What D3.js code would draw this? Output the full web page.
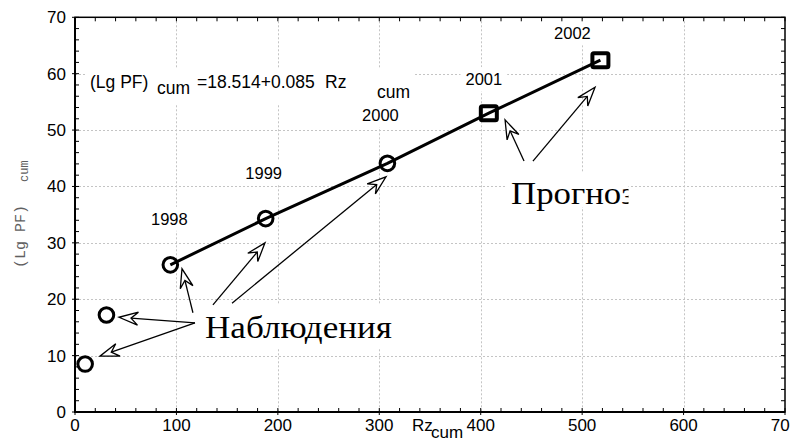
<!DOCTYPE html>
<html>
<head>
<meta charset="utf-8">
<script src="https://cdn.jsdelivr.net/npm/d3@7"></script>
<style>
  html, body { margin: 0; padding: 0; background: #fff; }
  svg { display: block; }
</style>
</head>
<body>
<svg id="chart" width="790" height="446"></svg>
<script>
// Observed cumulative values (Rz_cum, (Lg PF)_cum)
const obsX = [10, 31, 94, 188, 308];
const obsY = [8.5, 17.2, 26.1, 34.3, 44.1];
// Forecast values
const fcX = [408, 518];
const fcY = [53.0, 62.4];
// Years labelling the points joined by the regression line
const years = ["1998", "1999", "2000", "2001", "2002"];
// Axis ticks
const xTickValues = [0, 100, 200, 300, 400, 500, 600, 700];
const yTickValues = [0, 10, 20, 30, 40, 50, 60, 70];
const gridX = [100, 200, 300, 400, 500, 600];
const gridY = [10, 20, 30, 40, 50, 60];
// Text
const eqLeft = "(Lg PF)";
const eqRight = "=18.514+0.085";
const eqVar = "Rz";
const subText = "cum";
const obsLabel = "Наблюдения";
const fcLabel = "Прогноз";

// Annotation arrows, in data units: [startX, startY, tipX, tipY]
const obsArrows = [
  [118.3, 15.8, 43.4, 16.8],
  [118.3, 15.8, 24.6, 9.9],
  [116.3, 17.6, 105.5, 25.4],
  [136.0, 19.0, 187.3, 30.0],
  [154.8, 19.3, 306.6, 41.7]
];
const fcArrows = [
  [442.7, 44.5, 424.0, 51.8],
  [451.5, 44.5, 512.7, 57.6]
];

const plotL = 75, plotR = 785, plotT = 17.3, plotB = 412;

const svg = d3.select("#chart");
const x = d3.scaleLinear().domain([0, 700]).range([plotL, plotR]);
const y = d3.scaleLinear().domain([0, 70]).range([plotB, plotT]);

const SANS = "'Liberation Sans', Arial, sans-serif";
const SERIF = "'Liberation Serif', 'Times New Roman', serif";
const MONO = "'Liberation Mono', 'Courier New', monospace";

// --- grid
const grid = svg.append("g").attr("stroke", "#c4c4c4").attr("stroke-width", 1)
  .attr("stroke-dasharray", "2,2");
grid.selectAll("line.gx").data(gridX).join("line")
  .attr("x1", d => Math.round(x(d)) + 0.5).attr("x2", d => Math.round(x(d)) + 0.5)
  .attr("y1", plotT).attr("y2", plotB);
grid.selectAll("line.gy").data(gridY).join("line")
  .attr("y1", d => Math.round(y(d)) + 0.5).attr("y2", d => Math.round(y(d)) + 0.5)
  .attr("x1", plotL).attr("x2", plotR);

// white backgrounds behind annotation text
const bgLayer = svg.append("g");
const textLayer = svg.append("g");
function backdrop(sel, pad) {
  const b = sel.node().getBBox();
  bgLayer.append("rect")
    .attr("x", b.x - pad[0]).attr("y", b.y - pad[1])
    .attr("width", b.width + pad[0] + pad[2]).attr("height", b.height + pad[1] + pad[3])
    .attr("fill", "#fff");
}

// --- axes frame and ticks
const axisG = svg.append("g");
const minorX = d3.range(0, 701, 20);
const minorY = d3.range(0, 71, 2);
const tk = axisG.append("g").attr("stroke", "#000").attr("stroke-width", 1);
tk.selectAll("line.bx").data(minorX).join("line")
  .attr("x1", d => x(d)).attr("x2", d => x(d)).attr("y1", plotB).attr("y2", plotB - 4);
tk.selectAll("line.tx").data(minorX).join("line")
  .attr("x1", d => x(d)).attr("x2", d => x(d)).attr("y1", plotT).attr("y2", plotT + 4);
tk.selectAll("line.ly").data(minorY).join("line")
  .attr("y1", d => y(d)).attr("y2", d => y(d)).attr("x1", plotL).attr("x2", plotL + 4);
tk.selectAll("line.ry").data(minorY).join("line")
  .attr("y1", d => y(d)).attr("y2", d => y(d)).attr("x1", plotR).attr("x2", plotR - 4);
tk.selectAll("line.mx").data(xTickValues).join("line")
  .attr("x1", d => x(d)).attr("x2", d => x(d)).attr("y1", plotB).attr("y2", plotB + 3);
tk.selectAll("line.my").data(yTickValues).join("line")
  .attr("y1", d => y(d)).attr("y2", d => y(d)).attr("x1", plotL).attr("x2", plotL - 3);

axisG.append("rect").attr("x", plotL).attr("y", plotT)
  .attr("width", plotR - plotL).attr("height", plotB - plotT)
  .attr("fill", "none").attr("stroke", "#000").attr("stroke-width", 1.5);
axisG.append("line").attr("x1", plotL).attr("x2", plotL).attr("y1", plotT).attr("y2", plotB + 1)
  .attr("stroke", "#000").attr("stroke-width", 2);
axisG.append("line").attr("x1", plotL - 1).attr("x2", plotR).attr("y1", plotB).attr("y2", plotB)
  .attr("stroke", "#000").attr("stroke-width", 2);

// tick labels
axisG.selectAll("text.xl").data(xTickValues).join("text")
  .attr("x", d => x(d)).attr("y", 431)
  .attr("text-anchor", "middle").attr("font-family", SANS).attr("font-size", 17)
  .text(d => d);
axisG.selectAll("text.yl").data(yTickValues).join("text")
  .attr("x", 66).attr("y", d => y(d) + 6)
  .attr("text-anchor", "end").attr("font-family", SANS).attr("font-size", 17)
  .text(d => d);

// x axis title: Rz_cum
const xt = svg.append("g");
const xtText = xt.append("text").attr("font-family", SANS).attr("font-size", 17).attr("y", 431);
xtText.append("tspan").attr("x", 412).text(eqVar);
xtText.append("tspan").attr("x", 431).attr("dy", 7).text(subText);
{
  const b = xtText.node().getBBox();
  xt.insert("rect", "text").attr("x", b.x - 2).attr("y", b.y).attr("width", b.width + 5)
    .attr("height", b.height).attr("fill", "#fff");
}

// y axis title: (Lg PF)_cum
const yt = svg.append("g").attr("transform", "translate(25,268) rotate(-90)")
  .attr("fill", "#606060").attr("font-family", MONO);
yt.append("text").attr("x", 0).attr("y", 0).attr("font-size", 15).text(eqLeft);
yt.append("text").attr("x", 86).attr("y", 3).attr("font-size", 12).text(subText);

// --- equation
const eq = textLayer.append("text").attr("font-family", SANS).attr("font-size", 17.5);
eq.append("tspan").attr("x", 90).attr("y", 88).text(eqLeft);
eq.append("tspan").attr("x", 157).attr("y", 94).text(subText);
eq.append("tspan").attr("x", 197).attr("y", 88).text(eqRight);
eq.append("tspan").attr("x", 325).attr("y", 88).text(eqVar);
eq.append("tspan").attr("x", 377).attr("y", 98).text(subText);
backdrop(eq, [5, 4, 5, 3]);

// --- observed and forecast points
const pts = obsX.map((v, i) => ({ x: v, y: obsY[i] }));
const fpts = fcX.map((v, i) => ({ x: v, y: fcY[i] }));
const linePts = pts.slice(2).concat(fpts);

// year labels (offset from each point on the line)
const yearOffsets = [[-1, -40], [-2, -40], [-7, -42], [-5, -28], [-28, -21]];
linePts.forEach((p, i) => {
  const t = textLayer.append("text")
    .attr("x", x(p.x) + yearOffsets[i][0]).attr("y", y(p.y) + yearOffsets[i][1])
    .attr("text-anchor", "middle").attr("font-family", SANS).attr("font-size", 16.5)
    .text(years[i]);
  backdrop(t, [5, 3, 5, 3]);
});

// group labels
const obsT = textLayer.append("text").attr("x", 205).attr("y", 338)
  .attr("font-family", SERIF).attr("font-size", 31)
  .attr("textLength", 187).attr("lengthAdjust", "spacingAndGlyphs").text(obsLabel);
backdrop(obsT, [8, 6, 8, 4]);

svg.append("clipPath").attr("id", "fcClip").append("rect")
  .attr("x", 500).attr("y", 160).attr("width", 128.5).attr("height", 60);
const fcT = textLayer.append("text").attr("x", 511).attr("y", 204)
  .attr("font-family", SERIF).attr("font-size", 31)
  .attr("textLength", 124).attr("lengthAdjust", "spacingAndGlyphs")
  .attr("clip-path", "url(#fcClip)").text(fcLabel);
bgLayer.append("rect").attr("x", 505).attr("y", 173).attr("width", 123.5).attr("height", 34)
  .attr("fill", "#fff");

// --- regression line through 1998–2002
const marks = svg.append("g");
marks.append("path").datum(linePts)
  .attr("d", d3.line().x(d => x(d.x)).y(d => y(d.y)))
  .attr("fill", "none").attr("stroke", "#000").attr("stroke-width", 3);

marks.selectAll("circle").data(pts).join("circle")
  .attr("cx", d => x(d.x)).attr("cy", d => y(d.y)).attr("r", 7.3)
  .attr("fill", "none").attr("stroke", "#000").attr("stroke-width", 3);

marks.selectAll("rect.fc").data(fpts).join("rect")
  .attr("x", d => x(d.x) - 8).attr("y", d => y(d.y) - 7)
  .attr("width", 16).attr("height", 14).attr("rx", 1.5)
  .attr("fill", "none").attr("stroke", "#000").attr("stroke-width", 4);

// --- annotation arrows with open notched heads
function arrow(g, a) {
  const sx = x(a[0]), sy = y(a[1]), tx = x(a[2]), ty = y(a[3]);
  const len = Math.hypot(tx - sx, ty - sy);
  const ux = (tx - sx) / len, uy = (ty - sy) / len;
  const nx = -uy, ny = ux;
  const hl = 19, hw = 6.5, notch = 12;
  const b1 = [tx - hl * ux + hw * nx, ty - hl * uy + hw * ny];
  const b2 = [tx - hl * ux - hw * nx, ty - hl * uy - hw * ny];
  const nc = [tx - notch * ux, ty - notch * uy];
  g.append("line").attr("x1", sx).attr("y1", sy).attr("x2", nc[0]).attr("y2", nc[1]);
  g.append("path")
    .attr("d", `M${b1}L${tx},${ty}L${b2}L${nc}Z`)
    .attr("fill", "#fff");
}
const arrowG = svg.append("g").attr("stroke", "#000").attr("stroke-width", 1.3)
  .attr("stroke-linejoin", "miter");
obsArrows.forEach(a => arrow(arrowG, a));
fcArrows.forEach(a => arrow(arrowG, a));

// labels drawn on top
svg.node().appendChild(textLayer.node());
</script>
</body>
</html>
